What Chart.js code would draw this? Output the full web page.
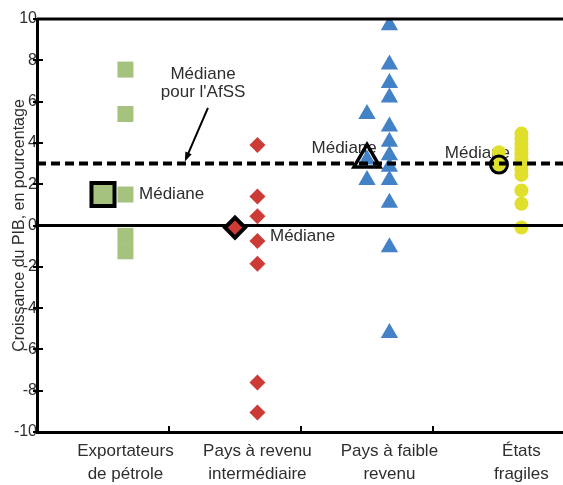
<!DOCTYPE html>
<html lang="fr">
<head>
<meta charset="utf-8">
<title>Croissance du PIB</title>
<script src="https://cdn.jsdelivr.net/npm/chart.js@4/dist/chart.umd.min.js"></script>
<style>
  html, body { margin: 0; padding: 0; background: #fff; }
  #wrap { width: 563px; height: 485px; }
</style>
</head>
<body>
<div id="wrap"><canvas id="chart" width="563" height="485"></canvas></div>
<script>
/* Croissance du PIB par groupe de pays - medianes et pays individuels */
var CATEGORIES = [
  ["Exportateurs", "de pétrole"],
  ["Pays à revenu", "intermédiaire"],
  ["Pays à faible", "revenu"],
  ["États", "fragiles"]
];
var Y_TICKS = [-10, -8, -6, -4, -2, 0, 2, 4, 6, 8, 10];
var MEDIAN_AFSS = 3;

var MEDIANS = [1.5, -0.1, 3.2, 2.95];
// pays a droite de la mediane
var OIL_COUNTRIES = [7.55, 5.4, 1.5, -0.5, -1.25];
var MID_COUNTRIES = [3.9, 1.4, 0.45, -0.75, -1.85, -7.6, -9.05];
var LOW_COUNTRIES = [9.7, 7.8, 6.9, 6.2, 4.8, 4.05, 3.4, 2.85, 2.2, 1.1, -1.05, -5.2];
var FRAGILE_COUNTRIES = [4.45, 4.2, 3.95, 3.7, 3.45, 3.2, 2.95, 2.7, 2.45, 1.7, 1.05, -0.1];
// pays alignes sur la mediane
var LOW_CENTER = [5.4, 3.2, 2.2];
var FRAGILE_CENTER = [3.55, 2.95];

(function () {
  "use strict";

  var X_MAX = 3.985;
  var MID = 0.5;
  var SIDE = 0.67;
  var INK = "#2e2e2e";
  var FONT = "'Liberation Sans', Arial, sans-serif";
  var GREEN = "#a5c27e";
  var RED = "#cc3b36";
  var BLUE = "#4482c8";
  var YELLOW = "#e0e02c";

  function column(values, cat, offset) {
    return values.map(function (v) { return { x: cat + offset, y: v }; });
  }
  function points(data, color, style, radius) {
    return {
      data: data, pointStyle: style, pointRadius: radius,
      pointBackgroundColor: color, pointBorderWidth: 0, pointBorderColor: color
    };
  }
  function median(cat, color, style, radius, width) {
    return {
      data: [{ x: cat + MID, y: MEDIANS[cat] }], pointStyle: style, pointRadius: radius,
      pointBackgroundColor: color, pointBorderColor: "#000", pointBorderWidth: width
    };
  }
  function hline(y, width, dash) {
    return {
      type: "line", data: [{ x: 0, y: y }, { x: X_MAX, y: y }], borderColor: "#000",
      borderWidth: width, borderDash: dash || [], pointRadius: 0, clip: false
    };
  }

  var datasets = [
    median(0, GREEN, "rect", 16.3, 4),
    median(1, RED, "rectRot", 10, 4),
    median(2, "rgba(0,0,0,0)", "triangle", 15, 3.5),
    median(3, "rgba(0,0,0,0)", "circle", 8.5, 3),
    hline(MEDIAN_AFSS, 4, [9, 5]),
    hline(0, 3),
    hline(Y_TICKS[Y_TICKS.length - 1], 3),
    points(column(OIL_COUNTRIES, 0, SIDE), GREEN, "rect", 11.3),
    points(column(MID_COUNTRIES, 1, SIDE), RED, "rectRot", 8),
    points(column(LOW_COUNTRIES, 2, SIDE).concat(column(LOW_CENTER, 2, MID)), BLUE, "triangle", 10),
    points(column(FRAGILE_COUNTRIES, 3, SIDE).concat(column(FRAGILE_CENTER, 3, MID)), YELLOW, "circle", 7)
  ];

  var notes = {
    id: "notes",
    beforeDatasetsDraw: function (chart) {
      var ctx = chart.ctx, xs = chart.scales.x, ys = chart.scales.y;
      function px(x) { return xs.getPixelForValue(x); }
      function py(y) { return ys.getPixelForValue(y); }
      ctx.save();
      ctx.fillStyle = INK;
      ctx.font = "17px " + FONT;
      ctx.textBaseline = "middle";
      ctx.textAlign = "left";
      ctx.fillText("Médiane", px(0.773), py(1.5));
      ctx.fillText("Médiane", px(1.765), py(-0.5));
      ctx.fillText("Médiane", px(2.08), py(3.75));
      ctx.fillText("Médiane", px(3.09), py(3.5));
      ctx.textAlign = "center";
      ctx.fillText("Médiane", px(1.258), py(7.3));
      ctx.fillText("pour l'AfSS", px(1.258), py(6.43));

      // fleche vers la mediane AfSS
      var x1 = px(1.295), y1 = py(5.7), x2 = px(1.12), y2 = py(3.1);
      var ang = Math.atan2(y2 - y1, x2 - x1);
      ctx.strokeStyle = "#000";
      ctx.fillStyle = "#000";
      ctx.lineWidth = 2;
      ctx.beginPath();
      ctx.moveTo(x1, y1);
      ctx.lineTo(x2 - Math.cos(ang) * 6, y2 - Math.sin(ang) * 6);
      ctx.stroke();
      ctx.beginPath();
      ctx.moveTo(x2, y2);
      ctx.lineTo(x2 - 10 * Math.cos(ang - 0.35), y2 - 10 * Math.sin(ang - 0.35));
      ctx.lineTo(x2 - 10 * Math.cos(ang + 0.35), y2 - 10 * Math.sin(ang + 0.35));
      ctx.closePath();
      ctx.fill();
      ctx.restore();
    },
    afterDatasetsDraw: function (chart) {
      var ctx = chart.ctx, xs = chart.scales.x, ys = chart.scales.y;
      var left = chart.chartArea.left, bottom = chart.chartArea.bottom;
      ctx.save();
      ctx.strokeStyle = "#000";
      ctx.lineWidth = 2;
      ctx.beginPath();
      Y_TICKS.forEach(function (v) {
        var y = Math.round(ys.getPixelForValue(v));
        ctx.moveTo(left - 4, y);
        ctx.lineTo(left + 6, y);
      });
      for (var i = 1; i < CATEGORIES.length; i += 1) {
        var x = Math.round(xs.getPixelForValue(i));
        ctx.moveTo(x, bottom);
        ctx.lineTo(x, bottom - 6);
      }
      ctx.stroke();
      ctx.restore();
    }
  };

  new Chart(document.getElementById("chart"), {
    type: "scatter",
    data: { datasets: datasets },
    options: {
      responsive: false,
      devicePixelRatio: 1,
      animation: false,
      events: [],
      layout: { autoPadding: false, padding: { top: 19, right: 0, left: 0, bottom: 0 } },
      plugins: { legend: { display: false }, tooltip: { enabled: false } },
      scales: {
        x: {
          type: "linear", min: 0, max: X_MAX,
          grid: { display: false, drawTicks: false },
          border: { display: true, color: "#000", width: 3 },
          afterFit: function (scale) { scale.height = 53; },
          afterBuildTicks: function (scale) {
            scale.ticks = CATEGORIES.map(function (c, i) { return { value: i + SIDE }; });
          },
          ticks: {
            autoSkip: false, maxRotation: 0, padding: 7, color: INK,
            font: { family: FONT, size: 17, lineHeight: 1.4 },
            callback: function (value, index) { return CATEGORIES[index]; }
          }
        },
        y: {
          min: Y_TICKS[0], max: Y_TICKS[Y_TICKS.length - 1],
          grid: { display: false, drawTicks: false },
          border: { display: true, color: "#000", width: 3 },
          afterFit: function (scale) { scale.width = 37; },
          afterBuildTicks: function (scale) {
            scale.ticks = Y_TICKS.map(function (v) { return { value: v }; });
          },
          ticks: {
            padding: 0, color: INK,
            font: { family: FONT, size: 16 }
          },
          title: {
            display: true, text: "Croissance du PIB, en pourcentage", color: INK,
            padding: { top: 10, bottom: 0 },
            font: { family: FONT, size: 16 }
          }
        }
      }
    },
    plugins: [notes]
  });
})();
</script>
</body>
</html>
